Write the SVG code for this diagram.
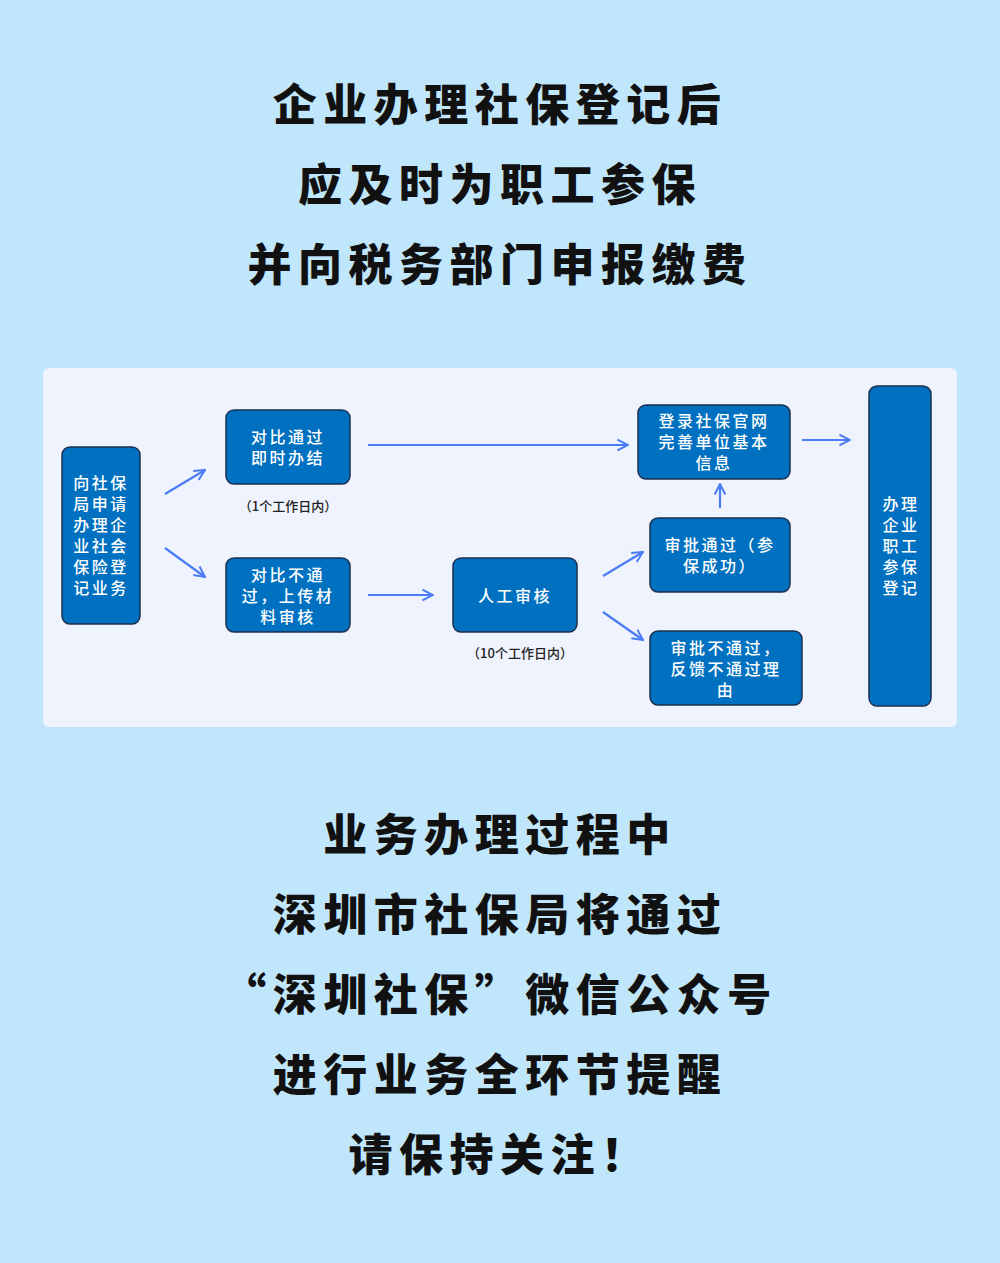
<svg xmlns="http://www.w3.org/2000/svg" width="1000" height="1263" viewBox="0 0 1000 1263">
<defs>
<style>
.h{font-family:"Noto Sans CJK SC",sans-serif;font-weight:900;font-size:44px;letter-spacing:6.5px;fill:#111;text-anchor:middle}
.b{fill:#0070c0;stroke:#1d2f4f;stroke-width:1.5}
.t{font-family:"Noto Sans CJK SC",sans-serif;font-weight:500;font-size:16px;letter-spacing:2.5px;fill:#fff;text-anchor:middle;dominant-baseline:central}
.s{font-family:"Noto Sans CJK SC",sans-serif;font-weight:500;font-size:13px;fill:#222;text-anchor:middle;dominant-baseline:central}
.c line{stroke:#4a7cf6;stroke-width:2.2;marker-end:url(#ar)}
</style>
<marker id="ar" viewBox="0 0 10 10" refX="9" refY="5" markerWidth="6" markerHeight="6" orient="auto" markerUnits="strokeWidth"><path d="M1,1 L9,5 L1,9" fill="none" stroke="#4a7cf6" stroke-width="1.5"/></marker>
</defs>
<rect width="1000" height="1263" fill="#c0e6fb"/>
<g id="title">
<text class="h" x="500" y="121">企业办理社保登记后</text>
<text class="h" x="500" y="201">应及时为职工参保</text>
<text class="h" x="500" y="281">并向税务部门申报缴费</text>
</g>
<rect x="43" y="368" width="914" height="359" rx="6" fill="#eff3fe"/>
<g class="c" id="connectors">
<line x1="165" y1="494" x2="205" y2="470"/>
<line x1="165" y1="548" x2="205" y2="577"/>
<line x1="368" y1="445" x2="628" y2="445"/>
<line x1="368" y1="595" x2="433" y2="595"/>
<line x1="603" y1="576" x2="643" y2="552"/>
<line x1="603" y1="612" x2="643" y2="640"/>
<line x1="720" y1="508" x2="720" y2="484"/>
<line x1="802" y1="440" x2="850" y2="440"/>
</g>
<g id="nA"><rect class="b" x="62" y="447" width="78" height="177" rx="8"/>
<text class="t" x="101" y="482">向社保</text><text class="t" x="101" y="503">局申请</text><text class="t" x="101" y="524">办理企</text><text class="t" x="101" y="545">业社会</text><text class="t" x="101" y="566">保险登</text><text class="t" x="101" y="587">记业务</text></g>
<g id="nB"><rect class="b" x="226" y="410" width="124" height="74" rx="8"/>
<text class="t" x="288" y="436">对比通过</text><text class="t" x="288" y="457">即时办结</text></g>
<text class="s" x="288" y="505">（1个工作日内）</text>
<g id="nC"><rect class="b" x="226" y="558" width="124" height="74" rx="8"/>
<text class="t" x="288" y="574">对比不通</text><text class="t" x="288" y="595">过，上传材</text><text class="t" x="288" y="616">料审核</text></g>
<g id="nD"><rect class="b" x="453" y="558" width="124" height="74" rx="8"/>
<text class="t" x="515" y="595">人工审核</text></g>
<text class="s" x="520" y="652">（10个工作日内）</text>
<g id="nE"><rect class="b" x="638" y="405" width="152" height="74" rx="8"/>
<text class="t" x="714" y="420">登录社保官网</text><text class="t" x="714" y="441">完善单位基本</text><text class="t" x="714" y="462">信息</text></g>
<g id="nF"><rect class="b" x="650" y="518" width="140" height="74" rx="8"/>
<text class="t" x="720" y="544">审批通过（参</text><text class="t" x="720" y="565">保成功）</text></g>
<g id="nG"><rect class="b" x="650" y="631" width="152" height="74" rx="8"/>
<text class="t" x="726" y="647">审批不通过，</text><text class="t" x="726" y="668">反馈不通过理</text><text class="t" x="726" y="689">由</text></g>
<g id="nH"><rect class="b" x="869" y="386" width="62" height="320" rx="8"/>
<text class="t" x="901" y="503">办理</text><text class="t" x="901" y="524">企业</text><text class="t" x="901" y="545">职工</text><text class="t" x="901" y="566">参保</text><text class="t" x="901" y="587">登记</text></g>
<g id="bottom">
<text class="h" x="500" y="851">业务办理过程中</text>
<text class="h" x="500" y="931">深圳市社保局将通过</text>
<text class="h" x="500" y="1011">“深圳社保”微信公众号</text>
<text class="h" x="500" y="1091">进行业务全环节提醒</text>
<text class="h" x="500" y="1171">请保持关注！</text>
</g>
</svg>
